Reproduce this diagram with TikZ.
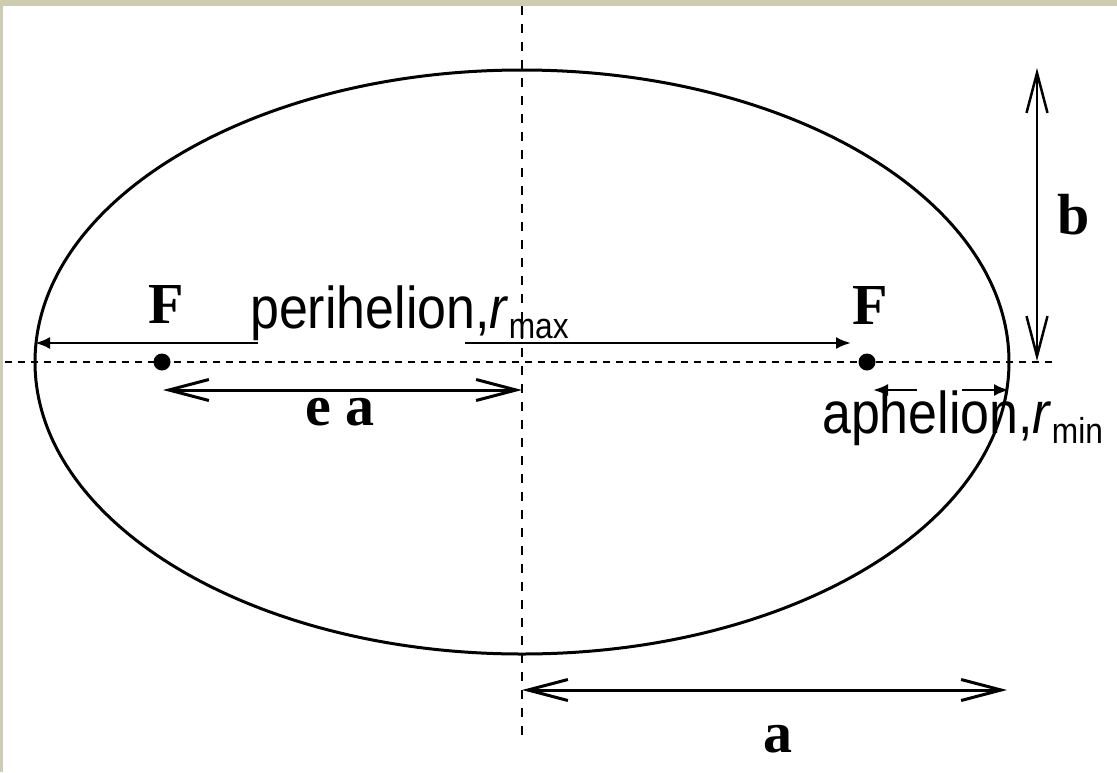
\documentclass[tikz,border=0pt]{standalone}
\usepackage{fontspec}
\usepackage{xcolor}
\usepackage{tikz}
\usetikzlibrary{arrows.meta}
\newfontfamily\lblsans[FakeStretch=0.88]{Liberation Sans}
\newfontfamily\lblserif{Liberation Serif}
\definecolor{framebg}{RGB}{206,204,176}
\tikzset{
  orbit/.style={line width=3pt, draw=black},
  axisline/.style={line width=1.8pt, draw=black, dash pattern=on 7pt off 6pt},
  bigarr/.style={{Straight Barb[length=40pt,width=21pt]}-{Straight Barb[length=40pt,width=21pt]}, line width=3pt},
  smallarr/.style={-{Latex[length=15pt,width=12pt]}, line width=2.5pt},
  focus/.style={circle, fill=black, inner sep=0pt, minimum size=17pt},
  symlbl/.style={font=\lblserif\bfseries\fontsize{58}{62}\selectfont, inner sep=0pt, anchor=base},
  namelbl/.style={font=\lblsans\fontsize{59}{64}\selectfont, inner sep=0pt, anchor=base west},
}
\newcommand{\subtxt}[1]{\raisebox{-10pt}{\fontsize{36}{38}\selectfont #1}}

\begin{document}
\begin{tikzpicture}[x=1pt,y=-1pt]
    \useasboundingbox (0,0) rectangle (1117,772);
    \fill[framebg] (0,0) rectangle (1117,772);
    \fill[white] (3,6) rectangle (1117,772);
    \coordinate (C) at (522,362);
    \coordinate (L) at (35,343); \coordinate (R) at (1009,390);
    \coordinate (hl) at (5,362); \coordinate (hr) at (1057,362);
    \coordinate (vt) at (522,6); \coordinate (vb) at (522,738);
    \draw[axisline] (hl) -- (hr);
    \draw[axisline, dash pattern=on 9pt off 9pt] (vt) -- (vb);
    \draw[orbit] (C) ellipse [x radius=487pt, y radius=292pt];
    \node[focus] (F1) at (162,362) {};
    \node[focus] (F2) at (867,362) {};
    \node[symlbl] (F1lbl) at (166,323) {F};
    \node[symlbl] (F2lbl) at (870,324) {F};
    \node[namelbl] (peri) at (250,328) {perihelion,\textit{r}\subtxt{max}};
    \node[namelbl] (aph) at (822,433) {aphelion,\textit{r}\subtxt{min}};
    \coordinate (p1) at (258,343); \coordinate (p2) at (465,343); \coordinate (p3) at (851,343);
    \draw[smallarr] (p1) -- (L); \draw[smallarr] (p2) -- (p3);
    \coordinate (q1) at (917,390); \coordinate (q2) at (873,390); \coordinate (q3) at (962,390);
    \draw[smallarr] (q1) -- (q2); \draw[smallarr] (q3) -- (R);
    \coordinate (ea1) at (163,390); \coordinate (ea2) at (522,390);
    \draw[bigarr] (ea1) -- (ea2);
    \node[symlbl] (ealbl) at (340,425) {e a};
    \coordinate (a1) at (522,690); \coordinate (a2) at (1007,690);
    \draw[bigarr] (a1) -- (a2);
    \node[symlbl] (albl) at (778,752) {a};
    \coordinate (b1) at (1037,68); \coordinate (b2) at (1037,361);
    \draw[bigarr, line width=2.5pt] (b1) -- (b2);
    \node[symlbl] (blbl) at (1074,234) {b};
  \end{tikzpicture}
\end{document}
